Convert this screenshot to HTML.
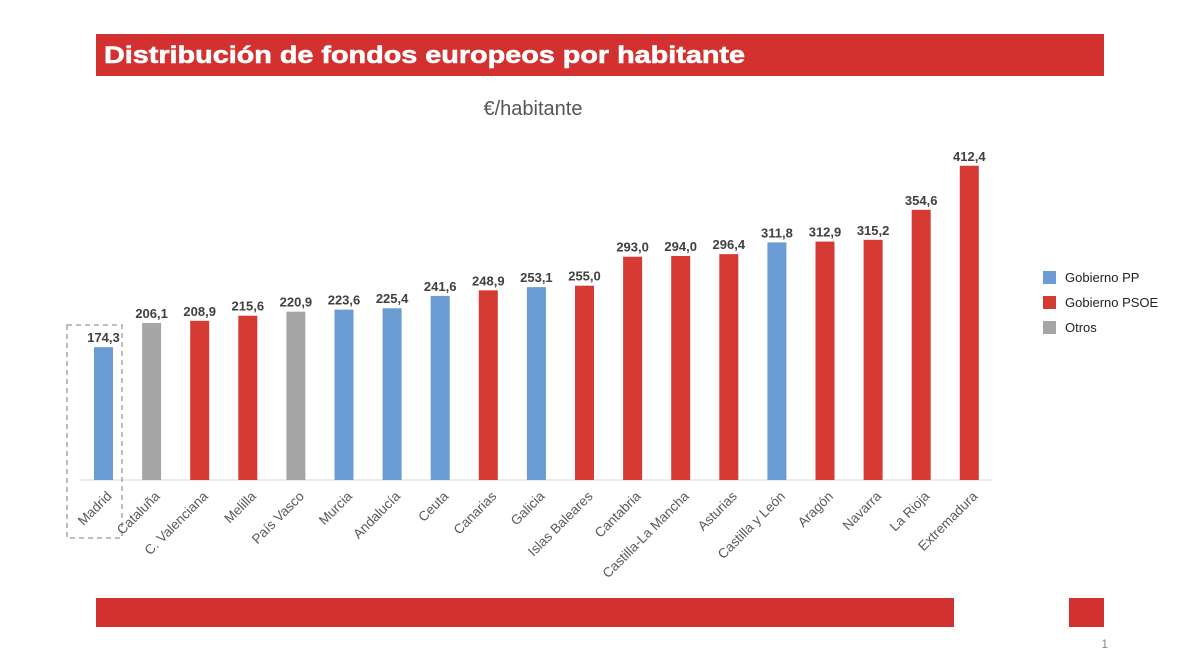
<!DOCTYPE html>
<html><head><meta charset="utf-8"><style>
body{margin:0;background:#fff;}
svg{display:block;font-family:"Liberation Sans",sans-serif;}
</style></head><body>
<svg width="1200" height="664" viewBox="0 0 1200 664">
<rect x="96" y="34" width="1008" height="42" fill="#d3312f"/>
<text x="104" y="63" font-size="24" font-weight="bold" fill="#fff" textLength="641" lengthAdjust="spacingAndGlyphs" stroke="#fff" stroke-width="0.6">Distribución de fondos europeos por habitante</text>
<text x="533" y="115" font-size="20" fill="#555" text-anchor="middle">€/habitante</text>
<line x1="80" y1="480" x2="993" y2="480" stroke="#d9d9d9" stroke-width="1"/>
<rect x="67" y="325" width="55" height="213" fill="none" stroke="#999" stroke-width="1.3" stroke-dasharray="5,4"/>
<g id="bars"></g>
<g>
<rect x="1043" y="271" width="13" height="13" fill="#6a9bd3"/>
<text x="1065" y="282" font-size="13" fill="#222">Gobierno PP</text>
<rect x="1043" y="296" width="13" height="13" fill="#d63b33"/>
<text x="1065" y="307" font-size="13" fill="#222">Gobierno PSOE</text>
<rect x="1043" y="321" width="13" height="13" fill="#a6a6a6"/>
<text x="1065" y="332" font-size="13" fill="#222">Otros</text>
</g>
<rect x="96" y="598" width="858" height="29" fill="#d3312f"/>
<rect x="1069" y="598" width="35" height="29" fill="#d3312f"/>
<text x="1108" y="648" font-size="12" fill="#888" text-anchor="end">1</text>
</svg>
<script>
const categories=["Madrid","Cataluña","C. Valenciana","Melilla","País Vasco","Murcia","Andalucía","Ceuta","Canarias","Galicia","Islas Baleares","Cantabria","Castilla-La Mancha","Asturias","Castilla y León","Aragón","Navarra","La Rioja","Extremadura"];
const values=[174.3,206.1,208.9,215.6,220.9,223.6,225.4,241.6,248.9,253.1,255.0,293.0,294.0,296.4,311.8,312.9,315.2,354.6,412.4];
const groups=["PP","Otros","PSOE","PSOE","Otros","PP","PP","PP","PSOE","PP","PSOE","PSOE","PSOE","PSOE","PP","PSOE","PSOE","PSOE","PSOE"];
const colors={PP:"#6a9bd3",PSOE:"#d63b33",Otros:"#a6a6a6"};
const base=480, scale=0.762, x0=103.5, step=48.1, bw=19;
function xPos(i){return x0+i*step;}
function yPos(v){return base-v*scale;}
const g=document.getElementById('bars');
const ns="http://www.w3.org/2000/svg";
categories.forEach((c,i)=>{
  const cx=xPos(i), y=yPos(values[i]);
  const r=document.createElementNS(ns,'rect');
  r.setAttribute('x',cx-bw/2);r.setAttribute('y',y);r.setAttribute('width',bw);r.setAttribute('height',base-y);
  r.setAttribute('fill',colors[groups[i]]);
  
  
  g.appendChild(r);
  const t=document.createElementNS(ns,'text');
  t.setAttribute('x',cx);t.setAttribute('y',y-5);t.setAttribute('text-anchor','middle');
  t.setAttribute('font-size','13');t.setAttribute('font-weight','bold');t.setAttribute('fill','#404040');
  t.textContent=values[i].toFixed(1).replace('.',',');
  
  
  g.appendChild(t);
  const l=document.createElementNS(ns,'text');
  l.setAttribute('x',0);l.setAttribute('y',0);l.setAttribute('text-anchor','end');
  l.setAttribute('font-size','13.5');l.setAttribute('fill','#595959');
  l.setAttribute('transform','translate('+(cx+9)+',497) rotate(-45)');
  l.textContent=c;
  
  
  g.appendChild(l);
});
</script>
</body></html>
